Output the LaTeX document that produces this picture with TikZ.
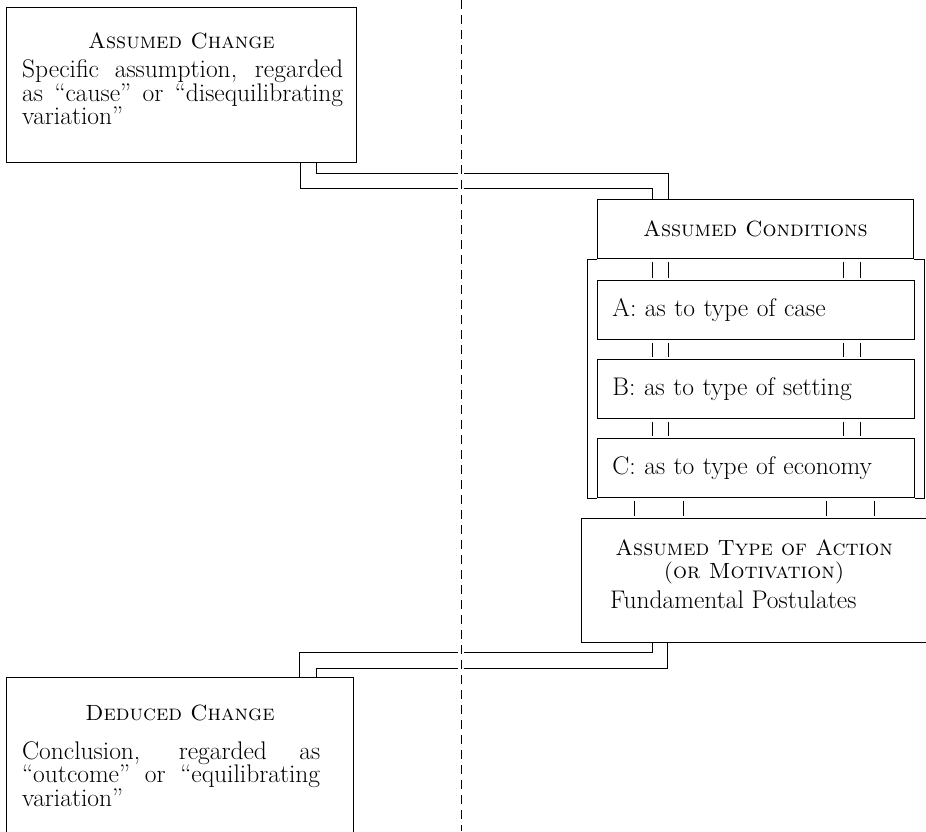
\documentclass[tikz,border=0pt]{standalone}
\usepackage{tikz}
\usetikzlibrary{positioning,calc}

\newcommand{\capsfont}{\fontsize{22}{22}\selectfont}

\begin{document}
\begin{tikzpicture}[
  x=1pt, y=-1pt,
  font=\fontsize{25.5}{21.5}\selectfont,
  boxframe/.style={
    draw,
    line width=0.9pt,
    inner sep=0pt,
    anchor=north west
  },
  casebox/.style={
    boxframe,
    minimum width=317pt,
    minimum height=59pt,
    text width=287pt,
    inner xsep=15pt,
    align=left
  },
  heading/.style={inner sep=0pt, anchor=base, font=\capsfont},
  bodytext/.style={inner sep=0pt, anchor=north west, align=justify},
  link/.style={line width=0.8pt},
  tickline/.style={line width=0.8pt, shorten <=3pt, shorten >=2pt},
  divider/.style={line width=0.8pt, dash pattern=on 9pt off 6pt}
]
  \useasboundingbox (0,0) rectangle (926,831);
  \clip (0,0) rectangle (926,831);

  % Left column: assumed change at the top, deduced change at the bottom
  \node[boxframe, minimum width=350pt, minimum height=155pt] (ac) at (6,7) {};
  \node[heading] (acTitle) at ([yshift=-41pt]ac.north) {\textsc{Assumed Change}};
  \node[bodytext, text width=321pt] (acBody) at ([xshift=16pt,yshift=-52pt]ac.north west) {
    Specific assumption, regarded\linebreak as “cause” or “disequilibrating\linebreak variation”
  };

  \node[boxframe, minimum width=347pt, minimum height=180pt] (deduced) at (6,677) {};
  \node[heading] (dcTitle) at ([yshift=-43pt]deduced.north) {\textsc{Deduced Change}};
  \node[bodytext, text width=298pt] (dcBody) at ([xshift=16pt,yshift=-64pt]deduced.north west) {
    Conclusion, regarded as\linebreak “outcome” or “equilibrating\linebreak variation”
  };

  % Right column: conditions stack and type of action
  \node[boxframe, minimum width=316pt, minimum height=59pt, font=\capsfont] (cond) at (597,199) {\textsc{Assumed Conditions}};
  \node[casebox] (caseA) at (597,280) {A: as to type of case};
  \node[casebox] (caseB) at (597,359) {B: as to type of setting};
  \node[casebox] (caseC) at (597,438) {C: as to type of economy};

  \node[boxframe, minimum width=350pt, minimum height=124pt] (action) at (581,518) {};
  \node[inner sep=0pt, anchor=north, align=center, font=\capsfont] (actTitle) at ([xshift=173pt,yshift=-22pt]action.north west) {
    \textsc{Assumed Type of Action}\\[1pt]
    \textsc{(or Motivation)}
  };
  \node[inner sep=0pt, anchor=base west] (actBody) at ([xshift=29pt,yshift=-90pt]action.north west) {Fundamental Postulates};

  % Bracket round the three cases
  \draw[link] (cond.south west) -- ++(-10,0) |- (caseC.south west);
  \draw[link] (cond.south east) -- ++(10,0) |- (caseC.south east);

  % Double ticks between the stacked boxes
  \foreach \upper/\lower in {cond/caseA, caseA/caseB, caseB/caseC}
    \foreach \dx in {55,71,246,263}
      \draw[tickline] ([xshift=\dx pt]\upper.south west) -- ([xshift=\dx pt]\lower.north west);
  \foreach \dx in {37,86,229,277} {
    \path ([xshift=\dx pt]caseC.south west) coordinate (tk);
    \draw[tickline] (tk) -- (tk |- action.north);
  }

  % Double links: change -> conditions, action -> deduced change
  \coordinate (upIn) at (316,173);
  \coordinate (upInR) at (668,173);
  \coordinate (upOut) at (300,188);
  \coordinate (upOutR) at (652,188);
  \draw[link] (ac.south -| upIn) -- (upIn) -- (upInR) -- (cond.north -| upInR);
  \draw[link] (ac.south -| upOut) -- (upOut) -- (upOutR) -- (cond.north -| upOutR);

  \coordinate (dnOutR) at (652,652);
  \coordinate (dnOut) at (299,652);
  \coordinate (dnInR) at (667,668);
  \coordinate (dnIn) at (316,668);
  \draw[link] (action.south -| dnOutR) -- (dnOutR) -- (dnOut) -- (deduced.north -| dnOut);
  \draw[link] (action.south -| dnInR) -- (dnInR) -- (dnIn) -- (deduced.north -| dnIn);

  % Dashed divider
  \coordinate (divTop) at (461,0);
  \coordinate (divBot) at (461,831);
  \draw[white, line width=6pt] (divTop) -- (divBot);
  \draw[divider] (divTop) -- (divBot);

\end{tikzpicture}
\end{document}
